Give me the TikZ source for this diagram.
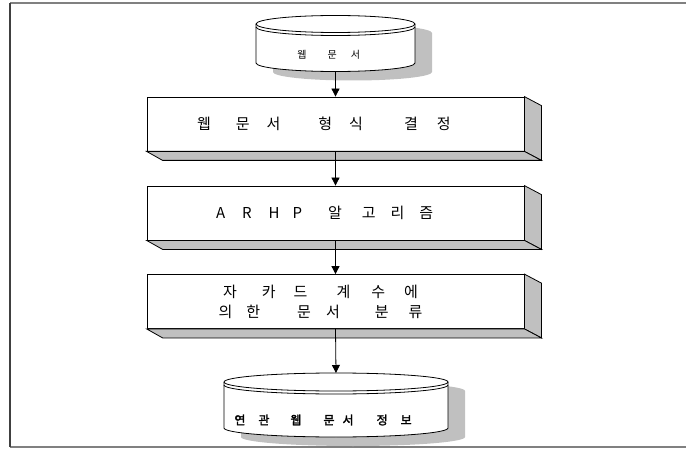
\documentclass[tikz,border=0pt]{standalone}
\usepackage{fontspec}
\newfontfamily\kr{Noto Sans CJK KR}
\newfontfamily\krb[FakeBold=2]{Noto Sans CJK KR}
\usetikzlibrary{arrows.meta}
\definecolor{facegray}{HTML}{C0C0C0}
\tikzset{>={Triangle[width=8pt,length=8pt]}}
\tikzset{
  slab/.style={draw, line width=0.8pt, fill=white, inner sep=0pt,
    minimum width=377pt, minimum height=54pt},
  slabtext/.style={font=\kr\fontsize{15}{20}\selectfont, inner sep=0pt},
  flow/.style={->, line width=0.8pt},
}

\begin{document}
\begin{tikzpicture}[x=1pt, y=1pt, line width=0.8pt]
  \useasboundingbox (0,0) rectangle (686,448);

  % gray bevel on the right and bottom of a box
  \newcommand\slabfaces[1]{%
    \filldraw[fill=facegray] (#1.north east) -- ++(17,-9)
      -- ([shift={(17,-9)}]#1.south east) -- (#1.south east) -- cycle;
    \filldraw[fill=facegray] (#1.south west) -- (#1.south east)
      -- ++(17,-9) -- ([shift={(16,-9)}]#1.south west) -- cycle;}

  % drum: name, centre x, top y, x radius, y radius, bottom y
  \newcommand\drum[6]{%
    \fill[facegray, shift={(17,-9)}] (#2-#4,#3)
      arc[start angle=180, end angle=0, x radius=#4pt, y radius=#5pt]
      -- (#2+#4,#6)
      arc[start angle=0, end angle=-180, x radius=#4pt, y radius=#5pt] -- cycle;
    \filldraw[fill=white] (#2-#4,#3)
      arc[start angle=180, end angle=0, x radius=#4pt, y radius=#5pt]
      -- (#2+#4,#6)
      arc[start angle=0, end angle=-180, x radius=#4pt, y radius=#5pt] -- cycle;
    \draw (#2-#4,#3)
      arc[start angle=180, end angle=360, x radius=#4pt, y radius=#5pt];
    \draw (#2-#4,#3-3)
      arc[start angle=180, end angle=360, x radius=#4pt, y radius=#5pt];
    \coordinate (#1-top) at (#2,#3+#5);
    \coordinate (#1-bot) at (#2,#6-#5);}

  % frame
  \draw[line width=1.2pt, gray] (686,445) -- (10,445);
  \draw[line width=1.2pt, gray] (10,1) -- (686,1);
  \draw[line width=1.5pt, black!75] (10,445) -- (10,1);

  % source documents
  \drum{src}{335.5}{424}{79.5}{8.5}{385}
  \node[font=\kr\fontsize{10}{12}\selectfont, inner sep=0pt, anchor=west]
    (src-t) at (297,393) {웹\hspace{21pt}문\hspace{14pt}서};

  % processing steps
  \node[slab] (fmt) at (335.5,324) {};
  \slabfaces{fmt}
  \node[slabtext, anchor=west] (fmt-t) at ([xshift=50pt]fmt.west)
    {웹\hspace{25pt}문\hspace{17pt}서\hspace{38pt}형\hspace{17pt}식\hspace{41pt}결\hspace{19pt}정};

  \node[slab] (arhp) at (335.5,235) {};
  \slabfaces{arhp}
  \node[slabtext, anchor=west] (arhp-t) at ([xshift=69pt]arhp.west)
    {A\hspace{17pt}R\hspace{17pt}H\hspace{13pt}P\hspace{26pt}알\hspace{20pt}고\hspace{15pt}리\hspace{15pt}즘};

  \node[slab] (jac) at (335.5,146.5) {};
  \slabfaces{jac}
  \node[slabtext, align=center] (jac-t) at ([xshift=-15pt]jac.center)
    {자\hspace{25pt}카\hspace{18pt}드\hspace{29pt}계\hspace{21pt}수\hspace{19pt}에\\
     의\hspace{14pt}한\hspace{37pt}문\hspace{15pt}서\hspace{35pt}분\hspace{20pt}류};

  % result
  \drum{out}{336}{66}{112}{9}{20}
  \node[font=\krb\fontsize{12}{14}\selectfont, inner sep=0pt, anchor=west]
    (out-t) at (234,28)
    {연\hspace{13pt}관\hspace{21pt}웹\hspace{22pt}문\hspace{8pt}서\hspace{23pt}정\hspace{13pt}보};

  % flow
  \draw[flow] (src-bot) -- (fmt.north);
  \draw[flow] (fmt.south) -- (arhp.north);
  \draw[flow] (arhp.south) -- (jac.north);
  \draw[flow] (jac.south) -- (out-top);
\end{tikzpicture}
\end{document}
